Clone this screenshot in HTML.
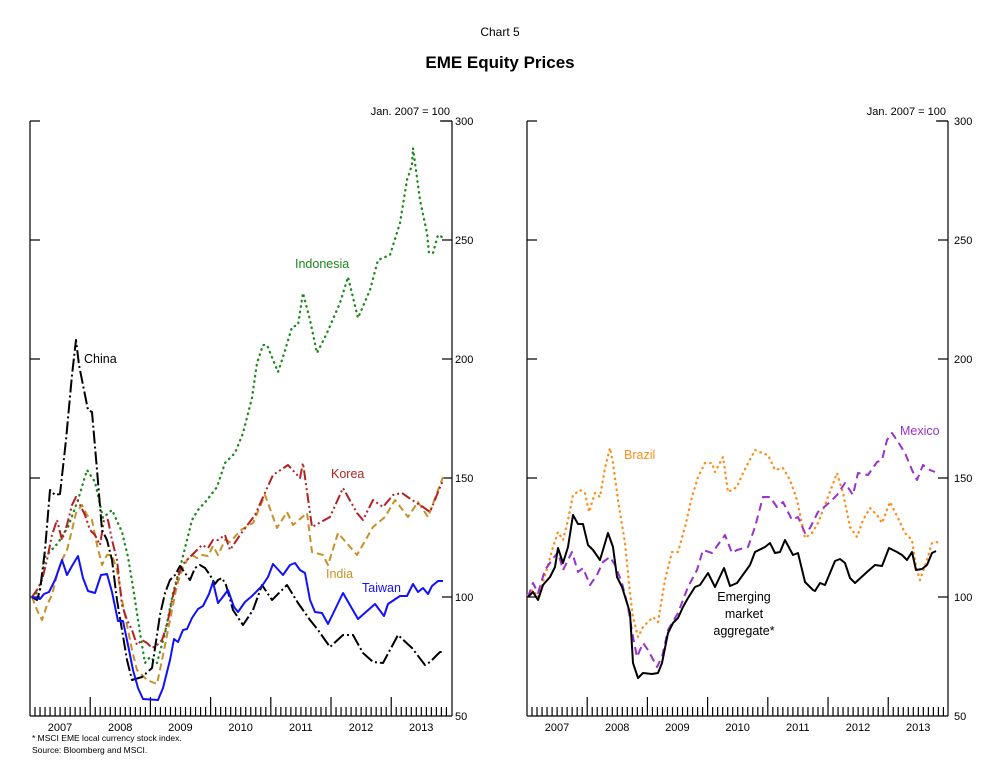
<!DOCTYPE html>
<html><head><meta charset="utf-8"><style>
html,body{margin:0;padding:0;background:#fff;}
svg{display:block;font-family:"Liberation Sans",Arial,sans-serif;}
</style></head><body>
<svg id="s" width="1000" height="772" viewBox="0 0 1000 772" xmlns="http://www.w3.org/2000/svg">
<text x="500" y="36" font-size="12" text-anchor="middle">Chart 5</text>
<text x="500" y="68" font-size="17" font-weight="bold" text-anchor="middle">EME Equity Prices</text>
<text x="450" y="115" font-size="11" text-anchor="end">Jan. 2007 = 100</text>
<text x="946" y="115" font-size="11" text-anchor="end">Jan. 2007 = 100</text>
<g id="axes" stroke="#000" stroke-width="1.2" fill="none"></g>
<g font-size="11" fill="#000">
<text x="455" y="125">300</text><text x="455" y="244">250</text><text x="455" y="363">200</text><text x="455" y="482">150</text><text x="455" y="601">100</text><text x="455" y="720">50</text>
<text x="954" y="125">300</text><text x="954" y="244">250</text><text x="954" y="363">200</text><text x="954" y="482">150</text><text x="954" y="601">100</text><text x="954" y="720">50</text>
</g>
<g id="yrs" font-size="11" text-anchor="middle"></g>
<text x="32" y="741" font-size="8.5">* MSCI EME local currency stock index.</text>
<text x="32" y="753" font-size="8.5">Source: Bloomberg and MSCI.</text>
<g fill="none" stroke-width="2" stroke-linejoin="round">
<polyline stroke="#1a8a1a" stroke-width="2.3" stroke-dasharray="0.5 5" stroke-linecap="round" points="32,597 40,590 45,557 58,543 68,527 78,500 87,470 95,482 103,518 112,510 122,532 128,557 133,587 140,633 145,663 150,657 157,663 165,633 173,593 182,560 192,520 198,510 207,500 217,487 225,463 235,453 243,433 252,398 257,363 263,345 267,345 278,372 283,357 292,327 298,325 303,293 310,320 317,353 327,333 340,303 348,277 358,318 370,290 378,260 390,255 400,223 407,180 412,165 413,148 420,200 427,233 429,253 433,253 438,235 442,237"/>
<polyline stroke="#c8902a" stroke-dasharray="7 4" points="32,597 37,610 42,620 47,605 52,595 57,575 62,560 67,550 72,530 76,513 82,505 87,515 92,520 97,545 102,565 107,555 112,555 117,570 122,600 127,625 132,650 137,670 142,675 147,680 152,682 157,684 162,660 167,635 172,610 177,585 182,570 187,560 192,555 197,558 202,555 208,556 213,546 218,555 225,540 230,542 241,530 253,523 265,495 277,528 287,512 293,525 307,513 312,552 323,555 328,565 338,533 357,555 373,527 385,517 395,500 408,517 418,502 428,517 443,477"/>
<polyline stroke="#b22222" stroke-dasharray="10 3 2 3 2 3" points="32,597 37,590 42,580 47,560 52,535 57,520 62,540 67,525 72,505 76,497 80,505 85,515 90,530 95,535 100,545 104,520 108,520 112,540 117,560 122,605 127,620 132,630 137,645 142,640 147,643 152,648 157,645 162,640 167,625 172,600 177,580 182,565 187,560 192,555 197,550 202,545 208,548 213,540 218,540 225,535 230,550 240,535 255,515 273,475 288,465 300,478 303,463 312,527 330,517 343,488 357,513 363,520 373,500 383,507 393,495 402,493 412,500 423,507 430,512 443,480"/>
<polyline stroke="#000" stroke-dasharray="13 3 2 3" points="32,597 37,600 40,590 45,550 50,490 55,495 60,494 66,440 72,375 76,340 79,365 83,385 88,410 92,412 97,470 102,530 107,540 112,560 117,600 122,630 127,660 132,680 142,677 152,668 160,615 165,593 170,580 175,575 180,566 185,573 190,580 195,568 200,565 205,568 210,575 215,584 218,580 222,578 226,585 233,610 243,625 253,610 262,585 272,600 287,585 298,603 310,620 318,630 330,647 343,635 353,635 363,653 373,662 383,663 398,635 412,648 425,665 430,662 440,652 443,652"/>
<polyline stroke="#1010ff" points="32,597 40,599 44,594 49,592 55,580 62,560 67,575 72,566 78,556 83,578 88,591 95,593 101,575 107,574 112,592 118,621 123,621 128,645 133,670 138,688 143,699 158,700 163,688 170,660 174,639 178,642 183,630 187,629 192,618 198,609 203,606 209,594 213,582 218,603 222,598 228,590 234,607 238,612 245,602 252,596 258,590 262,586 268,577 273,564 283,575 290,565 295,563 300,570 305,573 310,600 315,612 322,613 328,624 343,593 358,619 375,604 384,616 388,604 400,596 407,596 413,584 418,592 423,588 428,594 432,586 438,581 443,581"/>
<polyline stroke="#ff8c1a" stroke-width="2.3" stroke-dasharray="0.5 5" stroke-linecap="round" points="528,595 533,590 538,597 543,582 548,565 553,547 558,532 563,540 568,520 573,495 580,490 585,493 589,512 595,493 600,497 605,468 610,448 613,463 618,500 625,543 630,593 633,617 638,637 643,627 648,622 653,617 658,622 665,580 672,552 678,552 685,527 692,497 698,477 705,463 712,463 715,472 723,457 728,492 737,487 743,473 755,450 762,453 768,455 775,470 783,468 790,480 797,500 805,538 812,533 818,523 828,497 837,473 843,493 850,527 857,537 863,520 870,508 877,515 882,523 890,502 898,518 905,533 912,540 916,567 920,580 927,560 932,543 938,542"/>
<polyline stroke="#9932cc" stroke-dasharray="8 5" points="528,597 533,583 538,593 545,570 552,560 558,552 563,570 572,552 578,572 583,568 590,585 597,575 603,562 610,557 615,565 622,583 628,607 633,637 637,657 643,643 648,650 657,667 662,657 668,630 678,613 688,587 697,570 703,550 712,553 725,535 732,553 737,550 748,547 755,527 763,497 770,497 777,507 783,502 792,520 798,517 805,533 810,528 818,512 823,508 830,502 837,495 845,483 853,495 858,473 868,475 877,462 882,460 887,440 892,433 900,445 905,453 912,470 917,480 923,465 930,470 935,472"/>
<polyline stroke="#000" points="528,597 533,592 538,600 543,585 550,577 555,567 558,548 563,563 568,547 573,515 578,524 583,524 588,545 593,550 600,560 608,533 613,547 617,577 622,587 627,603 630,613 633,663 638,678 643,673 652,674 658,673 662,663 668,633 673,623 678,618 683,607 688,598 695,587 700,585 708,573 715,587 724,568 730,586 737,583 750,565 755,552 765,547 770,543 775,553 780,552 785,540 793,555 798,553 805,582 813,590 815,591 820,583 825,585 835,561 840,559 845,563 850,578 855,583 867,572 875,565 882,566 889,548 897,552 902,555 907,560 912,552 916,570 922,569 927,565 932,553 936,551"/>
</g>
<g font-size="12.5">
<text x="295" y="268" fill="#1a8a1a">Indonesia</text>
<text x="84" y="363" fill="#000">China</text>
<text x="331" y="478" fill="#b22222">Korea</text>
<text x="326" y="578" fill="#c8902a">India</text>
<text x="362" y="592" fill="#1010ff">Taiwan</text>
<text x="624" y="459" fill="#ff8c1a">Brazil</text>
<text x="900" y="435" fill="#9932cc">Mexico</text>
<text x="744" y="601" text-anchor="middle">Emerging</text>
<text x="744" y="618" text-anchor="middle">market</text>
<text x="744" y="635" text-anchor="middle">aggregate*</text>
</g>
</svg>
<script>
(function(){
var ns="http://www.w3.org/2000/svg",ax=document.getElementById("axes"),yr=document.getElementById("yrs");
function L(x1,y1,x2,y2){var l=document.createElementNS(ns,"line");l.setAttribute("x1",x1);l.setAttribute("y1",y1);l.setAttribute("x2",x2);l.setAttribute("y2",y2);ax.appendChild(l);}
[[30,452],[527,948]].forEach(function(p){
var a=p[0],b=p[1];
L(a,121,a,716);L(b,121,b,716);L(a,716,b,716);
L(b-12,121,b,121);
[121,240,359,478,597].forEach(function(y){L(a,y,a+10,y);L(b-10,y,b,y);});
for(var k=1;k<=83;k++){var x=a+5.017*k;L(x,k%12==0?697:707,x,716);}
var names=["2007","2008","2009","2010","2011","2012","2013"];
for(var i=0;i<7;i++){var t=document.createElementNS(ns,"text");t.setAttribute("x",a+30+60.2*i);t.setAttribute("y",731);t.textContent=names[i];yr.appendChild(t);}
});
})();
</script>
</body></html>
